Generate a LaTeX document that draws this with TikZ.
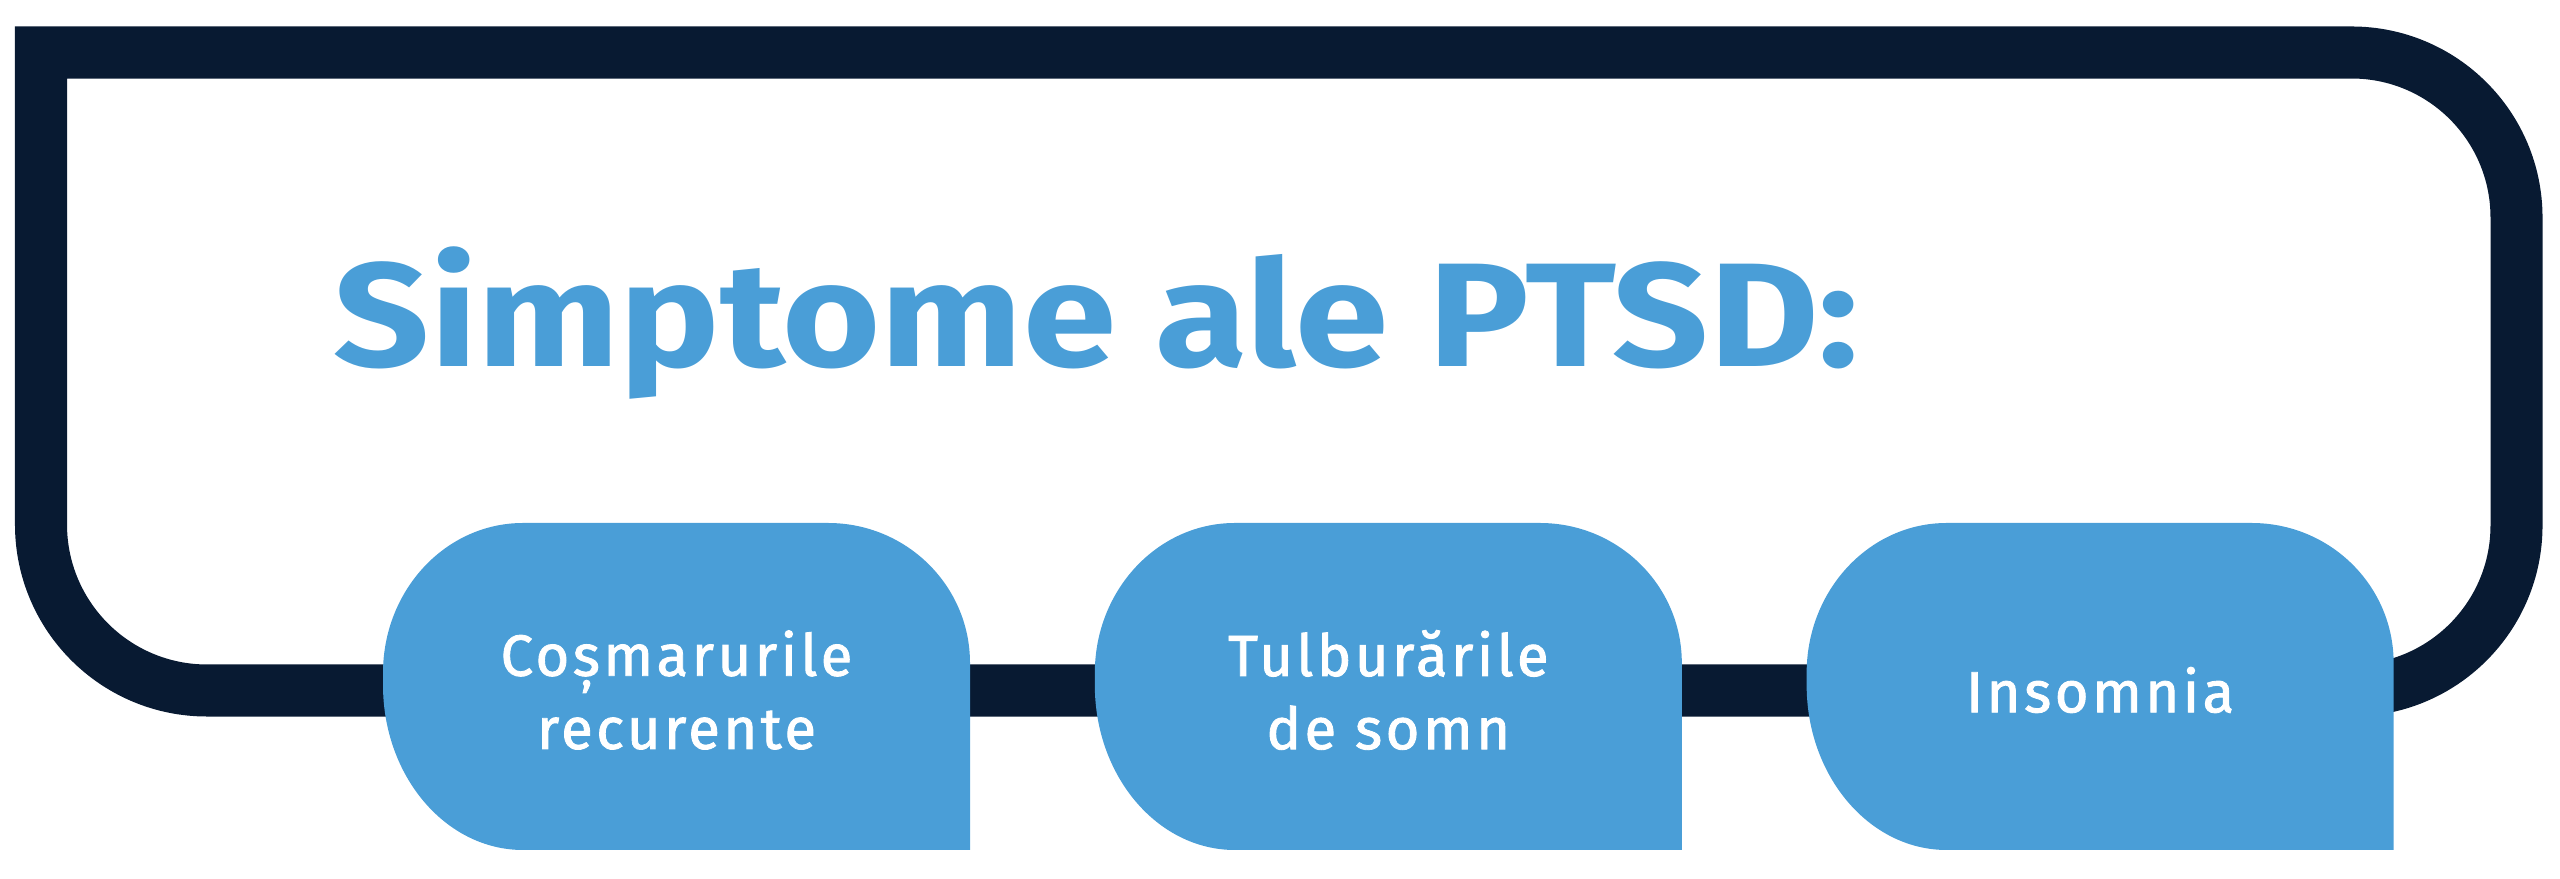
\documentclass[tikz,border=0pt]{standalone}
\usepackage{fontspec}
\usepackage{tikz}
\usetikzlibrary{positioning}
\usetikzlibrary{backgrounds}
\usetikzlibrary{calc}
\newfontfamily\headfont[FakeStretch=1.14]{Fira Sans}
\newfontfamily\symfont[LetterSpace=6,FakeBold=1.5]{Fira Sans}
\definecolor{ptsdblue}{HTML}{4A9ED7}
\definecolor{navy}{HTML}{081A32}
\tikzstyle{frame}=[draw=navy,line width=0.52cm,line join=miter]
\tikzstyle{sym}=[text=white,align=center,inner sep=0,minimum width=5.87cm,font=\symfont\fontsize{16.5}{20.8}\selectfont]
\newcommand{\blob}[1]{\fill[ptsdblue,shift={(#1)}] (-153.5,-160) -- (293.5,-160) -- (293.5,27)
  arc[start angle=0,end angle=90,x radius=142,y radius=140] -- (-153.5,167)
  arc[start angle=90,end angle=180,x radius=140,y radius=150] -- (-293.5,5)
  arc[start angle=180,end angle=270,x radius=140,y radius=165] -- cycle;}

\begin{document}
\begin{tikzpicture}[x=0.01cm,y=0.01cm]
\tikzstyle{title}=[text=ptsdblue,inner sep=0,anchor=base west,font=\headfont\bfseries\fontsize{42}{48}\selectfont]
\useasboundingbox (0,0) rectangle (2560,879);
    \node [title] (t) at (333,512) {Simptome ale PTSD:};
    \node [sym] (s1) at (676.5,189) {Coșmarurile\\recurente};
    \node [sym,right=1.23cm of s1] (s2) {Tulburările\\de somn};
    \node [sym,right=1.23cm of s2] (s3) {Insomnia};

\begin{scope}[on background layer]
\draw [frame] (41,354.5) -- (41,826.5) -- (2351.5,826.5) arc[start angle=90,end angle=0,radius=165]
  -- (2516.5,353.5) arc[start angle=0,end angle=-90,radius=165] -- (207,188.5)
  arc[start angle=270,end angle=180,radius=166] -- cycle;
\foreach \s in {s1,s2,s3} {\blob{\s}}
\end{scope}
\end{tikzpicture}
\end{document}
